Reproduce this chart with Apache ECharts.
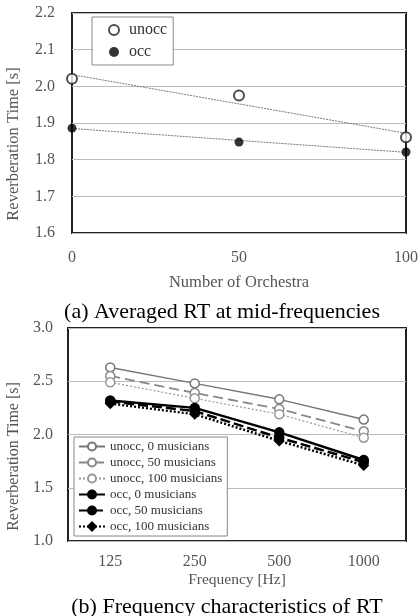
<!DOCTYPE html>
<html>
<head>
<meta charset="utf-8">
<script src="https://cdn.jsdelivr.net/npm/echarts@6/dist/echarts.min.js"></script>
<style>
  html, body { margin: 0; padding: 0; background: #fff; }
  #main { width: 420px; height: 616px; }
</style>
</head>
<body>
<div id="main"></div>
<script>
// (a) averaged RT at mid-frequencies
var orchestra = [0, 50, 100];
var unoccAvg = [2.021, 1.975, 1.861];
var occAvg = [1.886, 1.848, 1.821];
// trend line end values read at x = 0 and x = 100
var trendX = [0, 100];
var unoccTrend = [2.032, 1.872];
var occTrend = [1.885, 1.820];
var avgTicks = [1.6, 2.2, 0.1];

// (b) frequency characteristics
var freqs = ['125', '250', '500', '1000'];
var unocc0 = [2.63, 2.48, 2.33, 2.14];
var unocc50 = [2.55, 2.39, 2.24, 2.03];
var unocc100 = [2.49, 2.34, 2.19, 1.97];
var occ0 = [2.32, 2.25, 2.02, 1.76];
var occ50 = [2.31, 2.22, 1.97, 1.74];
var occ100 = [2.29, 2.19, 1.94, 1.71];
var freqTicks = [1.0, 3.0, 0.5];

var serif = "'Liberation Serif', 'DejaVu Serif', serif";
var grey = '#555';

function pairs(xs, ys) {
    return xs.map(function (x, i) { return [x, ys[i]]; });
}

var myChart = echarts.init(document.getElementById('main'));

var lineSeries = function (name, data, color, width, dash, symbol, fill) {
    return {
        name: name,
        type: 'line',
        xAxisIndex: 1,
        yAxisIndex: 1,
        data: data,
        symbol: symbol,
        symbolSize: 9,
        showSymbol: true,
        clip: false,
        lineStyle: { color: color, width: width, type: dash },
        itemStyle: { color: fill, borderColor: color, borderWidth: 1.5 },
        z: fill === '#fff' ? 3 : 4
    };
};

var tickFmt = function (v) { return v.toFixed(1); };

var option = {
    animation: false,
    textStyle: { fontFamily: serif },
    title: [
        {
            text: '(a) Averaged RT at mid-frequencies',
            left: 217, top: 296, textAlign: 'center',
            textStyle: { fontFamily: serif, fontSize: 22, fontWeight: 'normal', color: '#000' }
        },
        {
            text: '(b) Frequency characteristics of RT',
            left: 222, top: 591, textAlign: 'center',
            textStyle: { fontFamily: serif, fontSize: 22, fontWeight: 'normal', color: '#000' }
        }
    ],
    legend: [
        {
            data: ['unocc', 'occ'],
            orient: 'vertical',
            left: 92, top: 17,
            padding: [5, 6, 5, 16],
            itemGap: 6,
            itemWidth: 10, itemHeight: 10,
            backgroundColor: '#fff',
            borderColor: '#888', borderWidth: 1, borderRadius: 0,
            textStyle: { fontFamily: serif, fontSize: 16, color: '#333', padding: [0, 0, 0, 5] }
        },
        {
            data: ['unocc, 0 musicians', 'unocc, 50 musicians', 'unocc, 100 musicians',
                   'occ, 0 musicians', 'occ, 50 musicians', 'occ, 100 musicians'],
            orient: 'vertical',
            left: 74, top: 437,
            padding: [3, 5, 3, 4],
            itemGap: 3,
            itemWidth: 26, itemHeight: 10,
            backgroundColor: '#fff',
            borderColor: '#888', borderWidth: 1, borderRadius: 0,
            textStyle: { fontFamily: serif, fontSize: 13, color: '#333' },
            z: 10
        }
    ],
    grid: [
        { left: 72, top: 13, width: 334, height: 220, outerBoundsMode: 'none', containLabel: false,
          show: true, borderColor: '#222', borderWidth: 2, backgroundColor: 'transparent' },
        { left: 68, top: 328, width: 338, height: 213, outerBoundsMode: 'none', containLabel: false,
          show: true, borderColor: '#222', borderWidth: 2, backgroundColor: 'transparent' }
    ],
    xAxis: [
        {
            gridIndex: 0, type: 'value', min: 0, max: 100, interval: 50,
            axisLine: { show: false }, axisTick: { show: false }, splitLine: { show: false },
            axisLabel: { color: grey, fontSize: 16, margin: 17, fontFamily: serif },
            name: 'Number of Orchestra', nameLocation: 'middle', nameGap: 41,
            nameTextStyle: { color: grey, fontSize: 16.5, fontFamily: serif }
        },
        {
            gridIndex: 1, type: 'category', data: freqs, boundaryGap: true,
            axisLine: { show: false }, axisTick: { show: false }, splitLine: { show: false },
            axisLabel: { color: grey, fontSize: 16, margin: 13, fontFamily: serif },
            name: 'Frequency [Hz]', nameLocation: 'middle', nameGap: 31,
            nameTextStyle: { color: grey, fontSize: 15.5, fontFamily: serif }
        }
    ],
    yAxis: [
        {
            gridIndex: 0, type: 'value', min: avgTicks[0], max: avgTicks[1], interval: avgTicks[2],
            axisLine: { show: false }, axisTick: { show: false },
            splitLine: { lineStyle: { color: '#bbb', width: 1 } },
            axisLabel: { color: grey, fontSize: 16, margin: 17, fontFamily: serif, formatter: tickFmt },
            name: 'Reverberation Time [s]', nameLocation: 'middle', nameGap: 50,
            nameTextStyle: { color: grey, fontSize: 16.5, fontFamily: serif, padding: [0, 42, 0, 0] }
        },
        {
            gridIndex: 1, type: 'value', min: freqTicks[0], max: freqTicks[1], interval: freqTicks[2],
            axisLine: { show: false }, axisTick: { show: false },
            splitLine: { lineStyle: { color: '#bbb', width: 1 } },
            axisLabel: { color: grey, fontSize: 16, margin: 15, fontFamily: serif, formatter: tickFmt },
            name: 'Reverberation Time [s]', nameLocation: 'middle', nameGap: 46,
            nameTextStyle: { color: grey, fontSize: 16, fontFamily: serif, padding: [0, 44, 0, 0] }
        }
    ],
    series: [
        {
            name: 'unocc trend', type: 'line', xAxisIndex: 0, yAxisIndex: 0,
            data: pairs(trendX, unoccTrend), symbol: 'none',
            lineStyle: { color: '#777', width: 1, type: [2, 1] }, z: 2
        },
        {
            name: 'occ trend', type: 'line', xAxisIndex: 0, yAxisIndex: 0,
            data: pairs(trendX, occTrend), symbol: 'none',
            lineStyle: { color: '#777', width: 1, type: [2, 1] }, z: 2
        },
        {
            name: 'unocc', type: 'scatter', xAxisIndex: 0, yAxisIndex: 0,
            data: pairs(orchestra, unoccAvg), symbol: 'circle', symbolSize: 10, clip: false,
            itemStyle: { color: '#fff', borderColor: '#222', borderWidth: 2 }, z: 5
        },
        {
            name: 'occ', type: 'scatter', xAxisIndex: 0, yAxisIndex: 0,
            data: pairs(orchestra, occAvg), symbol: 'circle', symbolSize: 9, clip: false,
            itemStyle: { color: '#000' }, z: 5
        },
        lineSeries('unocc, 0 musicians', unocc0, '#777', 1.5, 'solid', 'circle', '#fff'),
        lineSeries('unocc, 50 musicians', unocc50, '#888', 1.8, [10, 5], 'circle', '#fff'),
        lineSeries('unocc, 100 musicians', unocc100, '#999', 1.2, [2, 2], 'circle', '#fff'),
        lineSeries('occ, 0 musicians', occ0, '#000', 2.5, 'solid', 'circle', '#000'),
        lineSeries('occ, 50 musicians', occ50, '#000', 2.5, [10, 4], 'circle', '#000'),
        lineSeries('occ, 100 musicians', occ100, '#000', 2.5, [2, 2], 'diamond', '#000')
    ]
};

myChart.setOption(option);
</script>
</body>
</html>
